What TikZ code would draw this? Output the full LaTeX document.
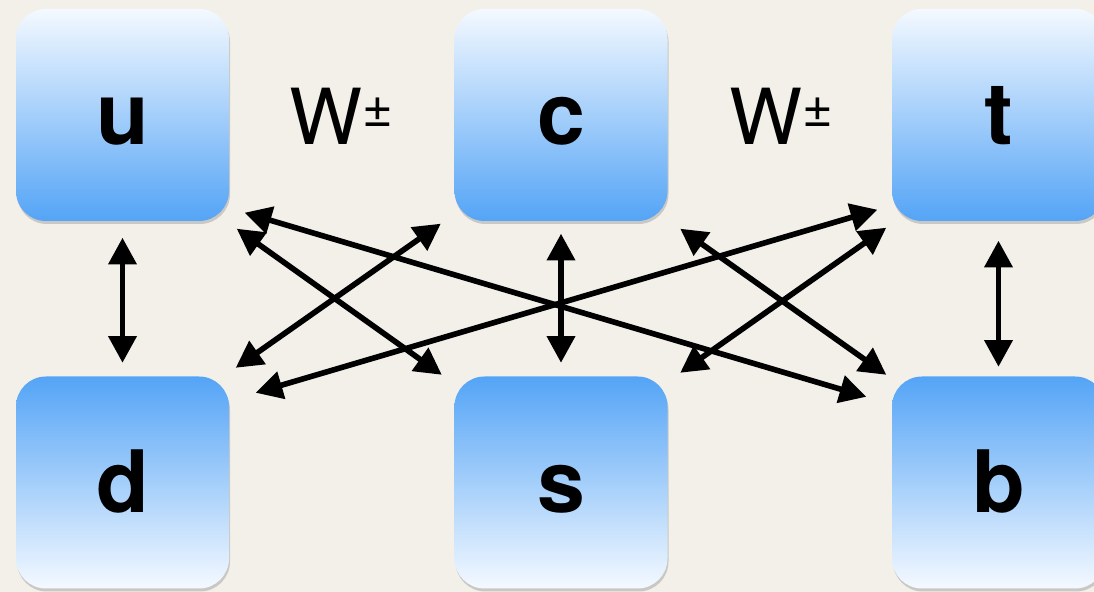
\documentclass[tikz,border=0pt]{standalone}
\usepackage{fontspec}
\setmainfont{TeX Gyre Heros}
\usepackage{xcolor}
\usetikzlibrary{arrows.meta,calc,positioning,shadows}

\definecolor{paper}{RGB}{243,240,234}
\definecolor{boxlight}{RGB}{244,249,255}
\definecolor{boxblue}{RGB}{84,164,246}

\begin{document}
\begin{tikzpicture}[
  quark/.style={rounded corners=0.3cm,minimum width=2.13cm,minimum height=2.12cm,inner sep=0pt,
    text height=0.6cm,text depth=0cm,
    font=\fontsize{24.5}{28}\selectfont\bfseries,
    drop shadow={shadow xshift=0.01cm,shadow yshift=-0.03cm,opacity=0.35}},
  upper/.style={quark,top color=boxlight,bottom color=boxblue},
  lower/.style={quark,top color=boxblue,bottom color=boxlight},
  mix/.style={line width=1.6pt,{Triangle[length=7.6pt,width=7.8pt]}-{Triangle[length=7.6pt,width=7.8pt]}},
  boson/.style={font=\fontsize{22}{26}\selectfont,inner sep=0pt}
]
  \useasboundingbox (0,0) rectangle (10.94,5.92);
  \fill[paper] (0,0) rectangle (10.94,5.92);

  \node[upper] (u) at (1.225,4.77) {u};
  \node[upper] (c) at (5.61,4.77) {c};
  \node[upper] (t) at (9.985,4.77) {t};
  \node[lower] (d) at (1.225,1.095) {d};
  \node[lower] (s) at (5.61,1.095) {s};
  \node[lower] (b) at (9.985,1.095) {b};

  \node[boson] (w1) at (3.41,4.76) {W\raisebox{5pt}{\fontsize{15}{15}\selectfont ±}};
  \node[boson] (w2) at (7.815,4.76) {W\raisebox{5pt}{\fontsize{15}{15}\selectfont ±}};

  % same generation
  \draw[mix,shorten <=0.16cm,shorten >=0.13cm] (u) -- (d);
  \draw[mix,shorten <=0.12cm,shorten >=0.13cm] (c) -- (s);
  \draw[mix,shorten <=0.19cm,shorten >=0.09cm,xshift=0.04cm] (t.south) -- (b.north);

  % mixing between generations
  \draw[mix] ($(u.south east)+(0.15,0.09)$) -- ($(b.north west)+(-0.25,-0.21)$);
  \draw[mix] ($(u.south east)+(0.07,-0.07)$) -- ($(s.north west)+(-0.12,0.01)$);
  \draw[mix] ($(d.north east)+(0.06,0.08)$) -- ($(c.south west)+(-0.13,-0.02)$);
  \draw[mix] ($(d.north east)+(0.26,-0.17)$) -- ($(t.south west)+(-0.14,0.12)$);
  \draw[mix] ($(c.south east)+(0.12,-0.07)$) -- ($(b.north west)+(-0.05,0.01)$);
  \draw[mix] ($(s.north east)+(0.12,0.03)$) -- ($(t.south west)+(-0.05,-0.06)$);
\end{tikzpicture}
\end{document}
